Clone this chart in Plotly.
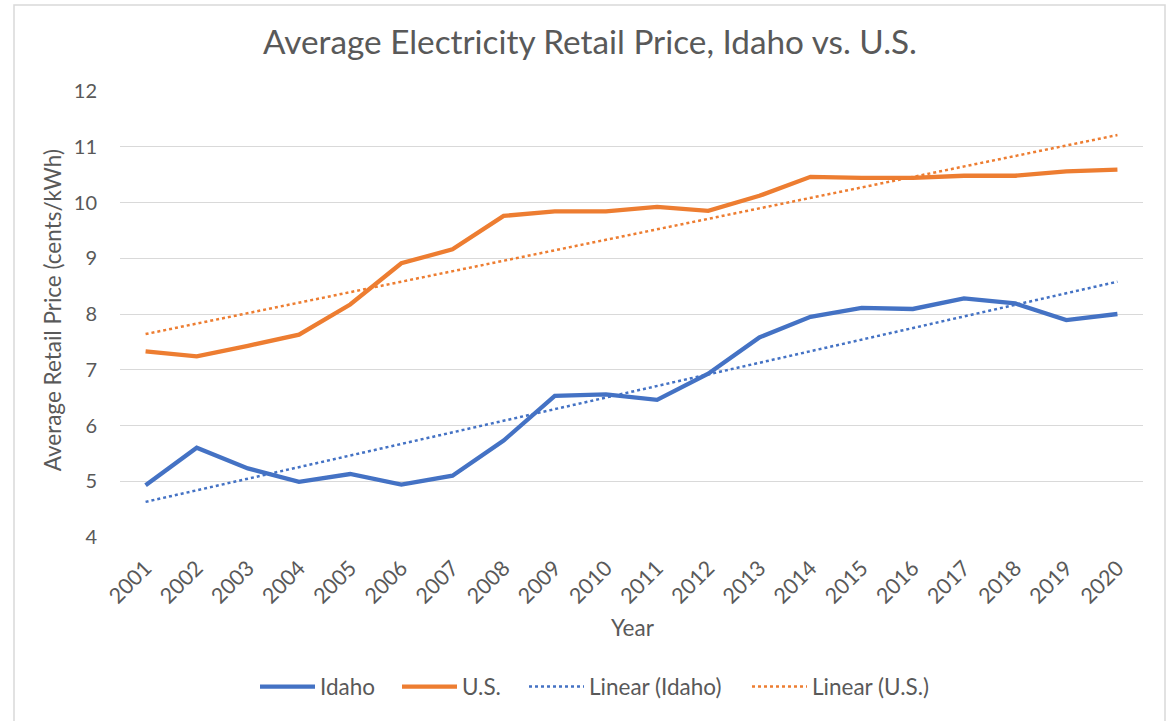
import plotly.graph_objects as go

years = [str(y) for y in range(2001, 2021)]
idaho = [4.93, 5.60, 5.23, 4.99, 5.13, 4.94, 5.10, 5.73, 6.53, 6.56,
         6.46, 6.93, 7.58, 7.95, 8.11, 8.09, 8.28, 8.19, 7.89, 8.00]
us = [7.33, 7.24, 7.43, 7.63, 8.17, 8.91, 9.16, 9.76, 9.84, 9.84,
      9.92, 9.85, 10.12, 10.46, 10.44, 10.44, 10.48, 10.48, 10.56, 10.59]
trend_years = ["2001", "2020"]
idaho_trend = [4.63, 8.58]
us_trend = [7.64, 11.21]

BLUE = "#4472C4"
ORANGE = "#ED7D31"
GRAY_TXT = "#595959"
GRID = "#d9d9d9"
FONT = "Lato"

# plot area in pixels
PL, PR, PT, PB = 120, 1143, 90.7, 540.7
PW, PH = PR - PL, PB - PT


def px(x):
    return (x - PL) / PW


def py(y):
    return (PB - y) / PH


fig = go.Figure()
fig.add_trace(go.Scatter(x=years, y=idaho, name="Idaho", mode="lines",
                         line=dict(color=BLUE, width=4.3), legend="legend"))
fig.add_trace(go.Scatter(x=years, y=us, name="U.S.", mode="lines",
                         line=dict(color=ORANGE, width=4.3), legend="legend2"))
fig.add_trace(go.Scatter(x=trend_years, y=idaho_trend, name="Linear (Idaho)", mode="lines",
                         line=dict(color=BLUE, width=2.5, dash="dot"), legend="legend3"))
fig.add_trace(go.Scatter(x=trend_years, y=us_trend, name="Linear (U.S.)", mode="lines",
                         line=dict(color=ORANGE, width=2.5, dash="dot"), legend="legend4"))

legend_font = dict(family=FONT, size=22.5, color=GRAY_TXT)
leg_y = py(692)


def leg(xpix):
    return dict(orientation="h", x=px(xpix), xanchor="left", y=leg_y, yanchor="middle",
                font=legend_font, bgcolor="rgba(0,0,0,0)", borderwidth=0, itemwidth=55)


fig.update_layout(
    width=1167, height=721,
    paper_bgcolor="white", plot_bgcolor="white",
    margin=dict(l=PL, r=1167 - PR, t=PT, b=721 - PB),
    font=dict(family=FONT, color=GRAY_TXT, size=20),
    title=dict(text="Average Electricity Retail Price, Idaho vs. U.S.",
               x=590/1167, xref="container", xanchor="center",
               y=1-42/721, yref="container", yanchor="middle",
               font=dict(family=FONT, size=33.3, color=GRAY_TXT)),
    showlegend=True,
    legend=leg(255),
    legend2=leg(397),
    legend3=leg(524),
    legend4=leg(747),
    xaxis=dict(type="category", categoryorder="array", categoryarray=years,
               range=[-0.5, 19.5], tickangle=-45, showgrid=False,
               showline=False, ticks="outside", ticklen=9, tickcolor="rgba(0,0,0,0)",
               tickfont=dict(size=21.5, color=GRAY_TXT),
               zeroline=False, automargin=False),
    yaxis=dict(range=[4, 12], dtick=1, showgrid=True, gridcolor=GRID, gridwidth=1.3,
               zeroline=False, showline=False, ticks="", ticklabelstandoff=22,
               tickfont=dict(size=20, color=GRAY_TXT), automargin=False),
    annotations=[
        dict(text="Year", x=px(633), y=py(632), xref="paper", yref="paper",
             showarrow=False, xanchor="center", yanchor="middle",
             font=dict(family=FONT, size=22.5, color=GRAY_TXT)),
        dict(text="Average Retail Price (cents/kWh)", x=px(52), y=py(312),
             xref="paper", yref="paper", showarrow=False, textangle=-90,
             xanchor="center", yanchor="middle",
             font=dict(family=FONT, size=22.5, color=GRAY_TXT)),
    ],
    shapes=[dict(type="rect", xref="paper", yref="paper",
                 x0=px(14), x1=px(1165), y0=py(760), y1=py(4),
                 line=dict(color=GRID, width=1.5), layer="below")],
)

fig.write_html("out.html", config={"displayModeBar": False},
               post_script="document.body.style.margin='0';")
